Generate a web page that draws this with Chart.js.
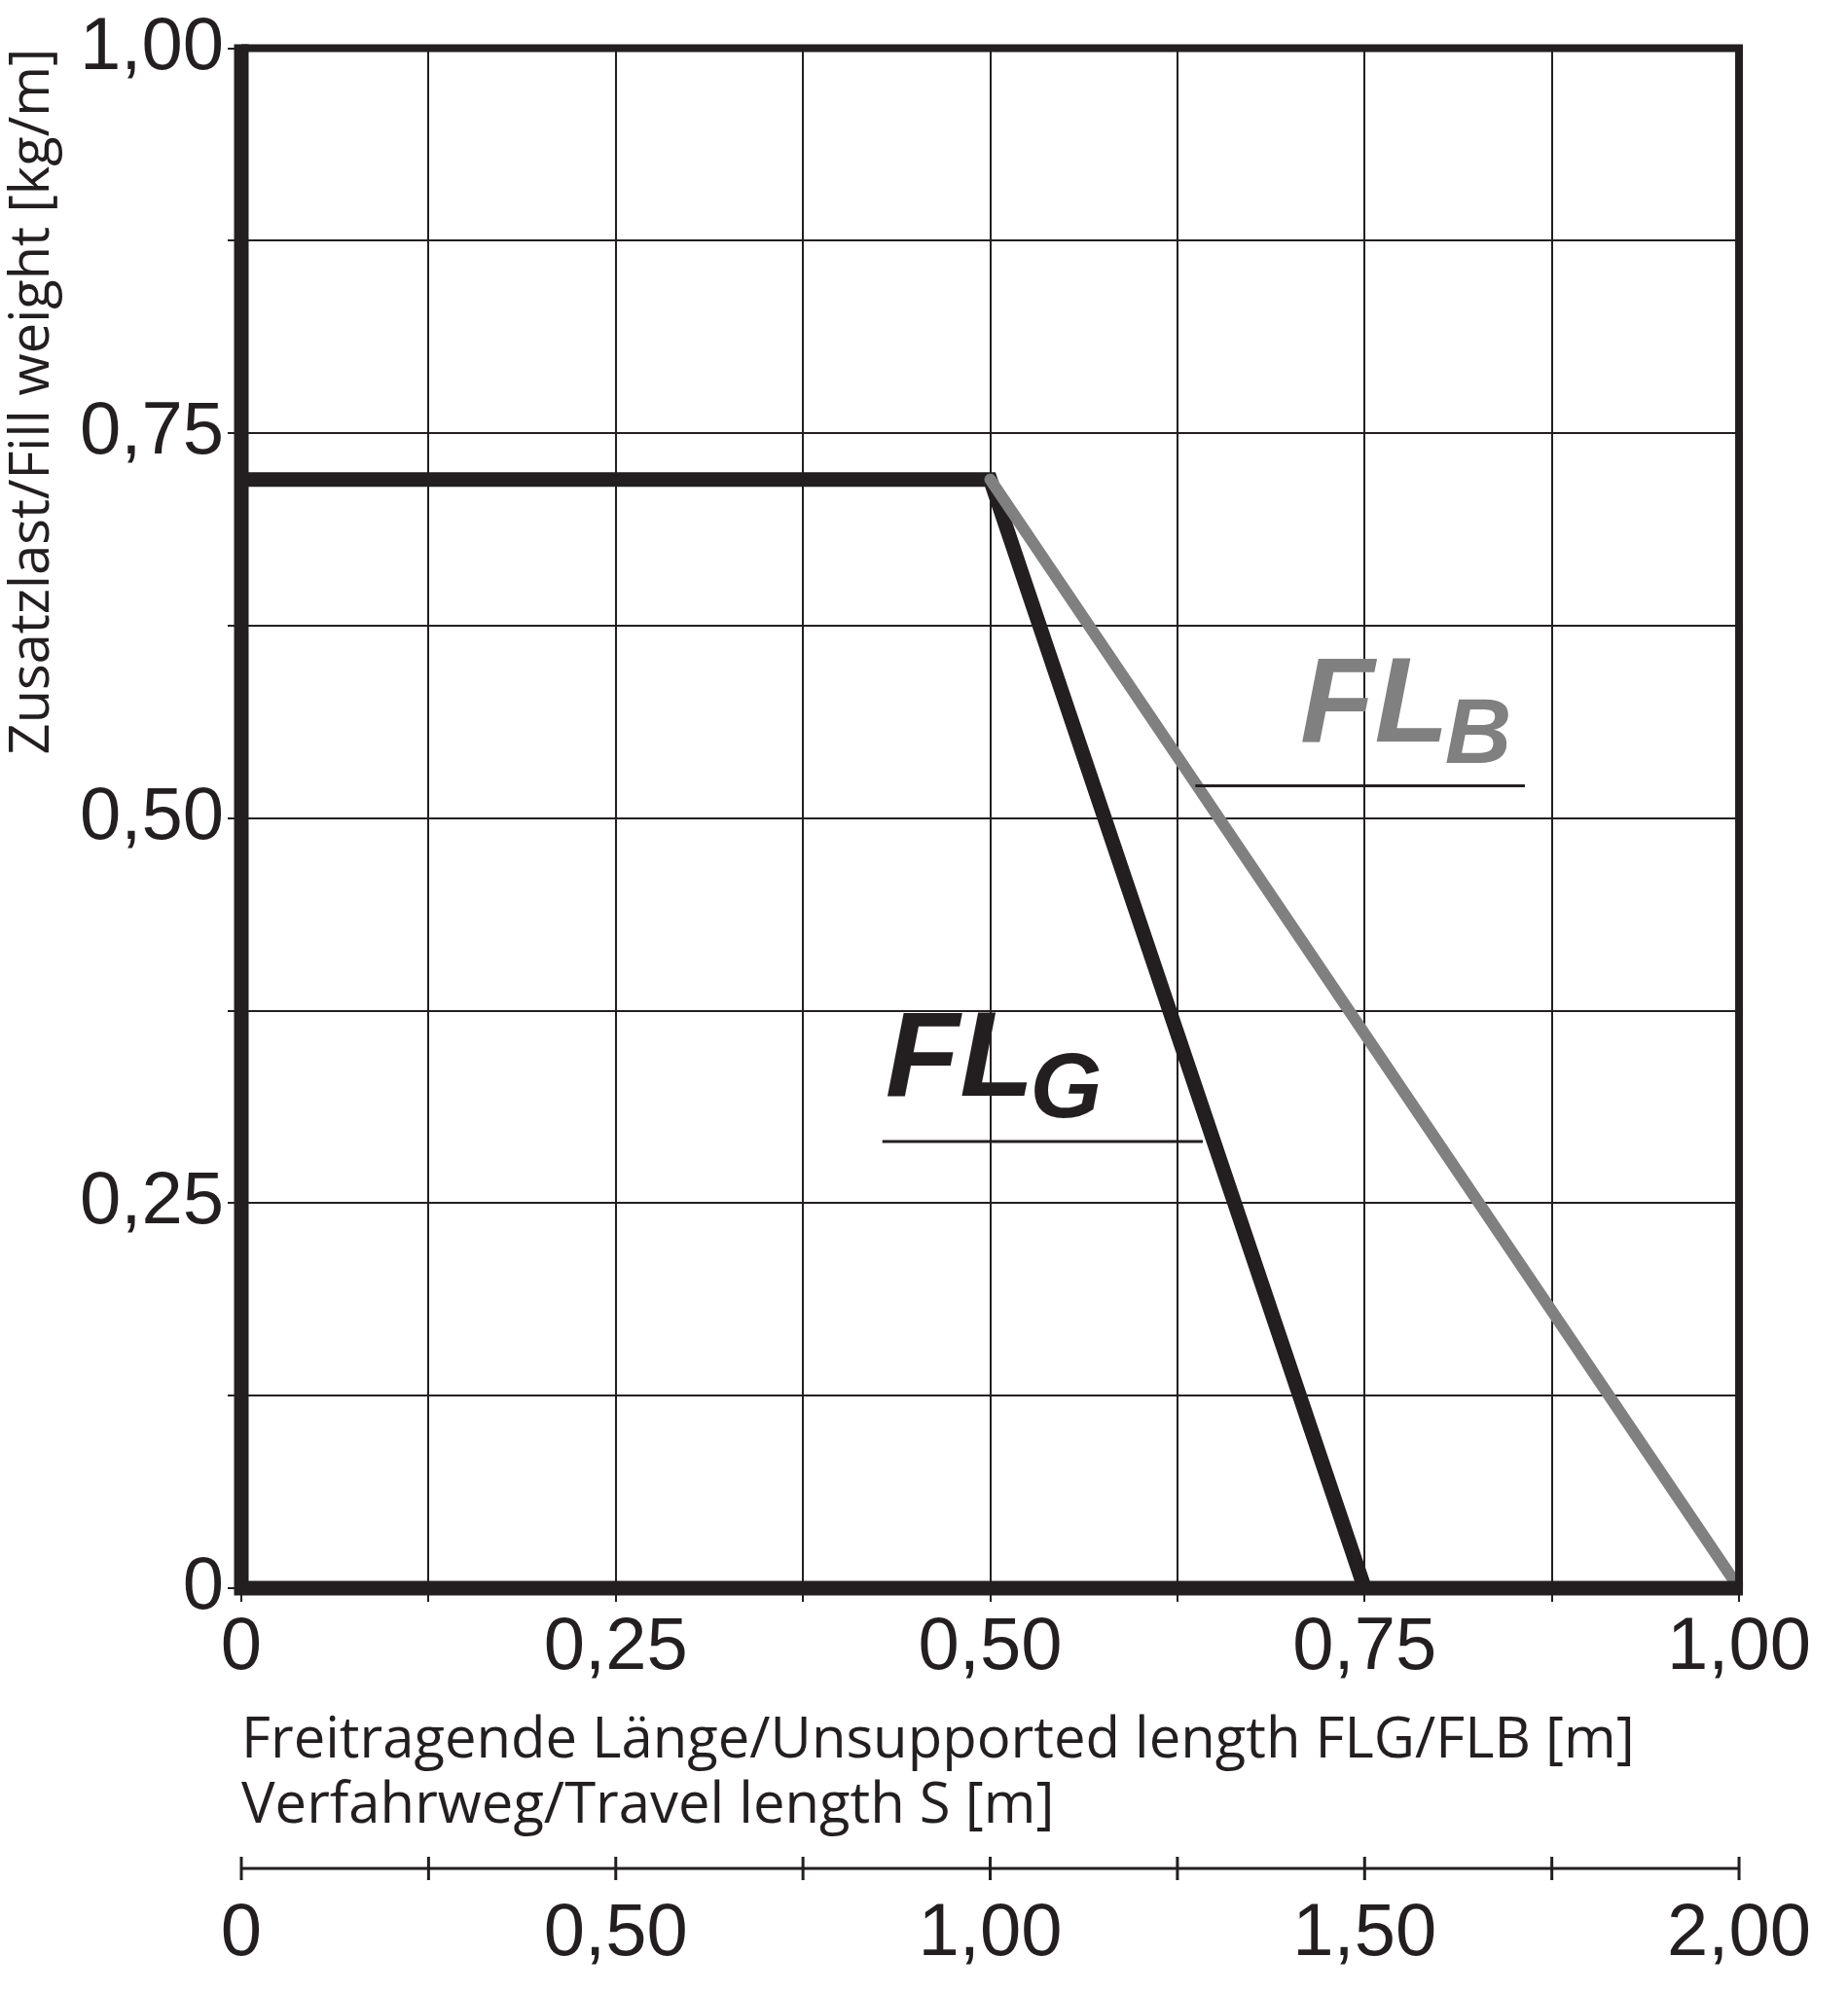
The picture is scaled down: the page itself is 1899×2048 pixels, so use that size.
<!DOCTYPE html>
<html><head><meta charset="utf-8">
<script src="https://cdn.jsdelivr.net/npm/chart.js@4"></script>
<style>html,body{margin:0;padding:0;background:#fff}#w{width:1899px;height:2048px}</style>
</head><body><div id="w"><canvas id="c"></canvas></div>
<script>
const flgX=[0,0.5,0.75];
const flgY=[0.72,0.72,0];
const flbX=[0.5,1.0];
const flbY=[0.72,0];
const yLabels={0:"0",0.25:"0,25",0.5:"0,50",0.75:"0,75",1:"1,00"};
const xLabels={0:"0",0.25:"0,25",0.5:"0,50",0.75:"0,75",1:"1,00"};
const x2Labels={0:"0",0.5:"0,50",1:"1,00",1.5:"1,50",2:"2,00"};
const F="'Liberation Sans Narrow','Liberation Sans',sans-serif";
const K="#231f20";
const SHIFT=30;
const deco={id:'deco',afterDatasetsDraw(ch){
 const c=ch.ctx,x=ch.scales.x,y=ch.scales.y,x2=ch.scales.x2,a=ch.chartArea;
 c.save();c.strokeStyle=K;c.lineCap='butt';
 c.lineWidth=8;c.beginPath();c.moveTo(a.left,a.top);c.lineTo(a.right,a.top);c.lineTo(a.right,a.bottom);c.stroke();
 c.lineWidth=15;c.beginPath();c.moveTo(a.left,a.top-4);c.lineTo(a.left,a.bottom);c.lineTo(a.right+4,a.bottom);c.stroke();
 const ly=x2.top+SHIFT;c.lineWidth=3;c.beginPath();c.moveTo(x2.left,ly);c.lineTo(x2.right,ly);c.stroke();
 for(let v=0;v<=2.0001;v+=0.25){const px=x2.getPixelForValue(v);c.beginPath();c.moveTo(px,ly-12);c.lineTo(px,ly+12);c.stroke();}
 function lab(tx,ty,sub,col,ux1,ux2,uy){
  c.fillStyle=col;c.font="italic bold 125px 'Liberation Sans',sans-serif";c.textBaseline='alphabetic';
  const X=x.getPixelForValue(tx),Y=y.getPixelForValue(ty);c.fillText("FL",X,Y);
  const w=c.measureText("FL").width;c.font="italic bold 95px 'Liberation Sans',sans-serif";c.fillText(sub,X+w-4,Y+22);
  c.strokeStyle=K;c.lineWidth=3;c.beginPath();const u=y.getPixelForValue(uy);c.moveTo(x.getPixelForValue(ux1),u);c.lineTo(x.getPixelForValue(ux2),u);c.stroke();
 }
 lab(0.43,0.32,"G",K,0.428,0.642,0.29);
 lab(0.707,0.55,"B","#808080",0.637,0.857,0.521);
 c.restore();}};
new Chart(document.getElementById('c'),{type:'scatter',
 data:{datasets:[
  {data:flbX.map((v,i)=>({x:v,y:flbY[i]})),showLine:true,borderColor:'#808080',borderWidth:12,pointRadius:0,borderCapStyle:'round'},
  {data:flgX.map((v,i)=>({x:v,y:flgY[i]})),showLine:true,borderColor:K,borderWidth:15,pointRadius:0}]},
 options:{responsive:true,maintainAspectRatio:false,animation:false,
  layout:{padding:{top:0,right:10,left:0,bottom:0}},
  plugins:{legend:{display:false},tooltip:{enabled:false}},
  scales:{
   y:{min:0,max:1,afterFit(s){s.width=248},
    ticks:{stepSize:0.125,autoSkip:false,color:K,padding:4,font:{family:F,size:76},callback:v=>yLabels[v]??''},
    grid:{color:K,lineWidth:2,tickLength:14},border:{display:false},
    title:{display:true,text:'Zusatzlast/Fill weight [kg/m]',align:'end',color:K,padding:0,font:{family:"'Open Sans',sans-serif",size:56}}},
   x:{type:'linear',position:'bottom',min:0,max:1,afterFit(s){s.height=288-SHIFT},
    ticks:{stepSize:0.125,autoSkip:false,maxRotation:0,color:K,padding:2,font:{family:F,size:76},callback:v=>xLabels[v]??''},
    grid:{color:K,lineWidth:2,tickLength:14},border:{display:false},
    title:{display:true,align:'start',text:['Freitragende Länge/Unsupported length FLG/FLB [m]','Verfahrweg/Travel length S [m]'],color:K,padding:{top:0,bottom:0},font:{family:"'Open Sans',sans-serif",size:58,lineHeight:1.15}}},
   x2:{type:'linear',position:'bottom',min:0,max:2,afterFit(s){s.height=128+SHIFT},
    ticks:{stepSize:0.25,autoSkip:false,maxRotation:0,color:K,padding:8+SHIFT,font:{family:F,size:76},callback:v=>x2Labels[v]??''},
    grid:{drawOnChartArea:false,drawTicks:true,tickLength:14,color:'rgba(0,0,0,0)'},border:{display:false}}
  }},plugins:[deco]});
</script></body></html>
